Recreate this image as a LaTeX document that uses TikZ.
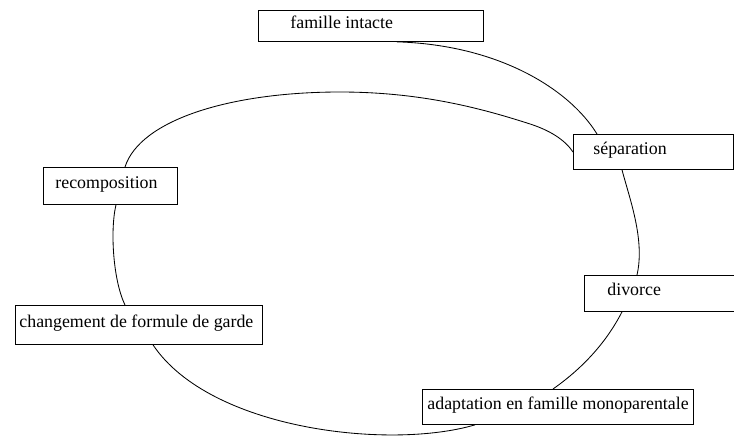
\documentclass[tikz,border=0pt]{standalone}
\usepackage{fontspec}
\setmainfont{Liberation Serif}
\usetikzlibrary{calc}
\tikzset{
  etape/.style={draw, line width=0.6pt, anchor=north west, inner sep=0pt,
    text height=9pt, text depth=6pt, font=\fontsize{12.7}{15}\selectfont},
  lien/.style={line width=0.6pt}
}
\begin{document}
\begin{tikzpicture}[x=0.25mm,y=-0.25mm]
\useasboundingbox (0,0) rectangle (734,438);

% les etapes
\node[etape,minimum height=7.75mm] (intacte) at (258,10) {\makebox[56.25mm][l]{\hspace*{8mm}famille intacte}};
\node[etape,minimum height=8.75mm] (separation) at (573,134) {\makebox[40mm][l]{\hspace*{5mm}séparation}};
\node[etape,minimum height=9mm] (divorce) at (584,275) {\makebox[40mm][l]{\hspace*{5.75mm}divorce}};
\node[etape,minimum height=8.75mm] (monoparentale) at (422,389) {\makebox[67.75mm][l]{\hspace*{1.25mm}adaptation en famille monoparentale}};
\node[etape,minimum height=9.75mm] (garde) at (15,305) {\makebox[61.75mm][l]{\hspace*{1mm}changement de formule de garde}};
\node[etape,minimum height=9.25mm] (recomposition) at (43,167) {\makebox[33.5mm][l]{\hspace*{3mm}recomposition}};

% le cycle
\draw[lien] ($(intacte.south west)+(139,0)$) .. controls (500,45) and (570,90) .. ($(separation.north west)+(24,0)$);
\draw[lien] ($(separation.south west)+(49,0)$) .. controls (630,200) and (645,240) .. ($(divorce.north west)+(53,0)$);
\draw[lien] ($(divorce.south west)+(38,0)$) .. controls (605,345) and (580,370) .. ($(monoparentale.north west)+(131,0)$);
\draw[lien] ($(monoparentale.south west)+(53,0)$) .. controls (390,450) and (210,430) .. ($(garde.south west)+(138,0)$);
\draw[lien] ($(garde.north west)+(110,0)$) .. controls (113,280) and (110,230) .. ($(recomposition.south west)+(73,0)$);
\draw[lien] ($(recomposition.north west)+(82,0)$) .. controls (140,120) and (230,92) .. (340,92)
  .. controls (420,92) and (480,108) .. (527,123)
  .. controls (550,130) and (565,140) .. ($(separation.north west)+(0,18)$);

\end{tikzpicture}
\end{document}
